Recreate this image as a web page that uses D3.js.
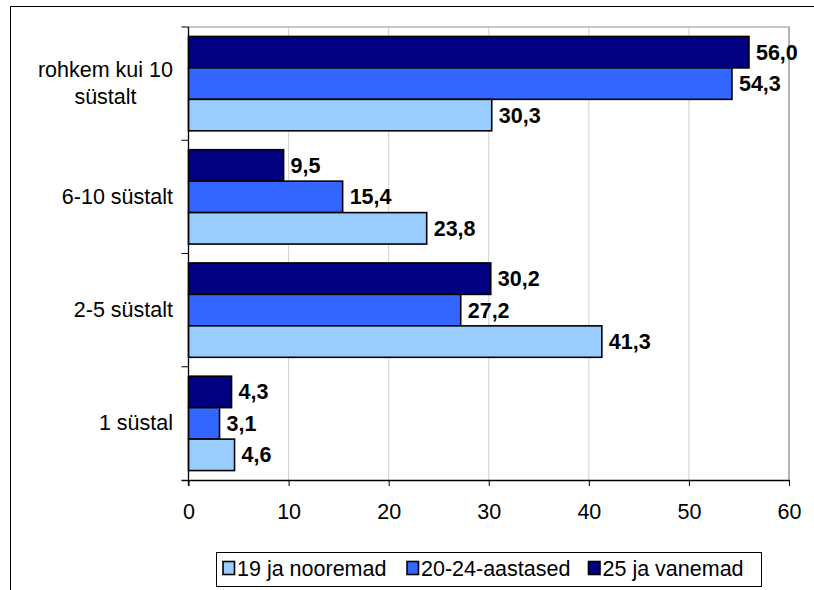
<!DOCTYPE html>
<html><head><meta charset="utf-8">
<script src="https://cdn.jsdelivr.net/npm/d3@7"></script>
<style>body{margin:0;background:#fff}svg{display:block;font-family:Arial,"Liberation Sans",sans-serif}</style>
</head><body><svg id="c" width="814" height="590"></svg>
<script>
const categories = ["rohkem kui 10 süstalt", "6-10 süstalt", "2-5 süstalt", "1 süstal"];
const categoryLines = [["rohkem kui 10", "süstalt"], ["6-10 süstalt"], ["2-5 süstalt"], ["1 süstal"]];
const seriesNames = ["25 ja vanemad", "20-24-aastased", "19 ja nooremad"];
const seriesColors = ["#000080", "#3366FF", "#99CCFF"];
const vanemad = [56.0, 9.5, 30.2, 4.3];
const aastased = [54.3, 15.4, 27.2, 3.1];
const nooremad = [30.3, 23.8, 41.3, 4.6];
const seriesValues = [vanemad, aastased, nooremad];
const xTicks = [0, 10, 20, 30, 40, 50, 60];
const legendOrder = [2, 1, 0];

const FS = 21.5;
const svg = d3.select("#c");
const L = 188.5, R = 789, T = 27, B = 480;

// outer frame
svg.append("path").attr("d", "M10.5,590 V6.5 H814").attr("fill", "none").attr("stroke", "#000").attr("stroke-width", 1);

const x = d3.scaleLinear().domain([0, 60]).range([L, R]);
const y = d3.scaleBand().domain(categories).range([T, B]).paddingInner(0).paddingOuter(0);
const inner = d3.scaleBand().domain(seriesNames).range([0, y.bandwidth()]).paddingInner(0).paddingOuter(0.3);

// gridlines
svg.append("g").selectAll("line").data(xTicks.slice(1)).join("line")
  .attr("x1", d => x(d)).attr("x2", d => x(d)).attr("y1", T).attr("y2", B)
  .attr("stroke", "#d0d0d0").attr("stroke-width", 1);
// plot border top/right
svg.append("path").attr("d", `M${L},${T} H${R} V${B}`).attr("fill", "none").attr("stroke", "#909090").attr("stroke-width", 1.2);

// bars
const fmt = v => d3.format(".1f")(v).replace(".", ",");
seriesNames.forEach((s, si) => {
  const g = svg.append("g");
  g.selectAll("rect").data(categories).join("rect")
    .attr("x", L)
    .attr("y", (c) => y(c) + inner(s))
    .attr("width", (c, i) => x(seriesValues[si][i]) - L)
    .attr("height", inner.bandwidth())
    .attr("fill", seriesColors[si]).attr("stroke", "#000").attr("stroke-width", 1.6);
  g.selectAll("text").data(categories).join("text")
    .attr("x", (c, i) => x(seriesValues[si][i]) + 7)
    .attr("y", (c) => y(c) + inner(s) + inner.bandwidth() / 2 + 7.5)
    .attr("font-size", FS).attr("font-weight", "bold").attr("fill", "#000")
    .text((c, i) => fmt(seriesValues[si][i]));
});

// x axis
const xAxis = d3.axisBottom(x).tickValues(xTicks).tickSize(6).tickPadding(0).tickSizeOuter(0);
const gx = svg.append("g").attr("transform", `translate(0,${B})`).call(xAxis);
gx.select(".domain").attr("stroke", "#000").attr("stroke-width", 1.3).attr("d", `M${L - 7},0.5H${R}`);
gx.selectAll(".tick line").attr("stroke", "#000").attr("stroke-width", 1);
gx.selectAll(".tick text").attr("font-size", FS).attr("font-family", "Arial, 'Liberation Sans', sans-serif")
  .attr("fill", "#000").attr("dy", null).attr("y", 39);

// y axis
const gy = svg.append("g");
gy.append("line").attr("x1", L).attr("x2", L).attr("y1", T).attr("y2", B + 6).attr("stroke", "#000").attr("stroke-width", 1.3);
gy.selectAll("line.t").data(categories).join("line").attr("class", "t")
  .attr("x1", L - 7).attr("x2", L).attr("y1", c => y(c)).attr("y2", c => y(c)).attr("stroke", "#000");
gy.selectAll("text").data(categories).join("text")
  .attr("text-anchor", "middle").attr("font-size", FS).attr("fill", "#000")
  .each(function(c, i) {
    const lines = categoryLines[i];
    const t = d3.select(this);
    const cy = y(c) + y.bandwidth() / 2;
    const lh = 27;
    const spans = lines.map((ln, k) =>
      t.append("tspan").attr("y", cy + (k - (lines.length - 1) / 2) * lh + 7).text(ln));
    const w = d3.max(spans, sp => sp.node().getComputedTextLength());
    spans.forEach(sp => sp.attr("x", 173 - w / 2));
  });

// legend
const lg = svg.append("g");
lg.append("rect").attr("x", 216.5).attr("y", 552.5).attr("width", 545).attr("height", 34)
  .attr("fill", "#fff").attr("stroke", "#000").attr("stroke-width", 1);
const legX = [223, 407, 588.5];
legendOrder.forEach((si, k) => {
  lg.append("rect").attr("x", legX[k]).attr("y", 561.5).attr("width", 11.5).attr("height", 13)
    .attr("fill", seriesColors[si]).attr("stroke", "#000").attr("stroke-width", 1.6);
  lg.append("text").attr("x", legX[k] + 14).attr("y", 576).attr("font-size", FS).attr("fill", "#000").text(seriesNames[si]);
});
</script></body></html>
